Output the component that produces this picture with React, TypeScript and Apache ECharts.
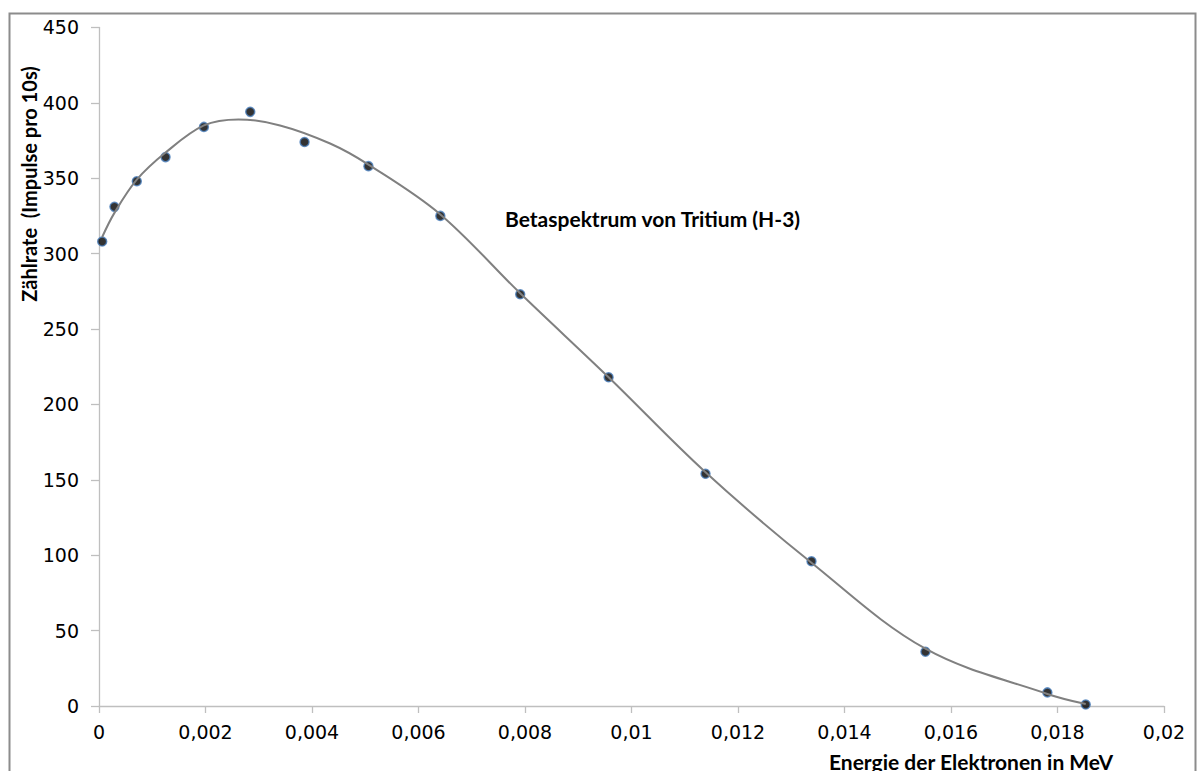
import React, { useEffect, useRef } from "react";
import * as echarts from "echarts";

// measured points (Energie in MeV, Zählrate)
const energy = [0.00006, 0.00029, 0.00071, 0.00125, 0.00197, 0.00284, 0.00386, 0.00506, 0.00641, 0.00791, 0.00957, 0.01139, 0.01338, 0.01552, 0.01781, 0.01853];
const counts = [308, 331, 348, 364, 384, 394, 374, 358, 325, 273, 218, 154, 96, 36, 9, 1];

// trendline samples
const trendX = [0.00006, 0.00029, 0.00071, 0.00125, 0.00197, 0.00262, 0.0034, 0.00434, 0.00506, 0.00641, 0.0079, 0.00957, 0.01139, 0.01338, 0.01552, 0.01781, 0.01853];
const trendY = [311, 327, 349, 367, 385, 389, 385, 373, 359, 326, 274, 218, 155, 95, 38, 8, 1.3];

const titleText = "Betaspektrum von Tritium (H-3)";
const xName = "Energie der Elektronen in MeV";
const yName = "Zählrate  (Impulse pro 10s)";

export default function App() {
  const ref = useRef<HTMLDivElement>(null);
  useEffect(() => {
    document.body.style.margin = "0";
    const chart = echarts.init(ref.current!, undefined, { renderer: "svg" });
    const axisColor = "#bfbfbf";
    chart.setOption({
      animation: false,
      backgroundColor: "#ffffff",
      grid: { left: 99, right: 33, top: 27.4, bottom: 65 },
      title: {
        text: titleText,
        left: 505,
        top: 208,
        padding: 0,
        textStyle: { fontFamily: "Lato", fontWeight: "bold", fontSize: 21, color: "#000" },
      },
      xAxis: {
        type: "value",
        min: 0,
        max: 0.02,
        interval: 0.002,
        axisLine: { show: true, lineStyle: { color: axisColor, width: 1.3 } },
        axisTick: { show: true, length: 7, lineStyle: { color: axisColor, width: 1.3 } },
        splitLine: { show: false },
        axisLabel: {
          margin: 16,
          fontFamily: "DejaVu Sans",
          fontSize: 19,
          color: "#000",
          formatter: (v: number) => String(parseFloat(v.toFixed(4))).replace(".", ","),
        },
      },
      yAxis: {
        type: "value",
        min: 0,
        max: 450,
        interval: 50,
        axisLine: { show: true, lineStyle: { color: axisColor, width: 1.3 } },
        axisTick: { show: true, length: 8, lineStyle: { color: axisColor, width: 1.3 } },
        splitLine: { show: false },
        axisLabel: { margin: 20, fontFamily: "DejaVu Sans", fontSize: 19, color: "#000" },
      },
      graphic: [
        {
          type: "rect",
          shape: { x: 9.5, y: 13.5, width: 1186, height: 800 },
          style: { fill: "none", stroke: "#8c8c8c", lineWidth: 2 },
          silent: true,
        },
        {
          type: "text",
          x: 29,
          y: 184,
          rotation: Math.PI / 2,
          style: {
            text: yName,
            align: "center",
            verticalAlign: "middle",
            fontFamily: "Lato",
            fontWeight: "bold",
            fontSize: 20,
            fill: "#000",
          },
        },
        {
          type: "text",
          x: 1113,
          y: 761,
          style: {
            text: xName,
            align: "right",
            verticalAlign: "middle",
            fontFamily: "Lato",
            fontWeight: "bold",
            fontSize: 21,
            fill: "#000",
          },
        },
      ],
      series: [
        {
          type: "scatter",
          data: energy.map((x, i) => [x, counts[i]]),
          symbol: "circle",
          symbolSize: 9,
          itemStyle: { color: "#000000", borderColor: "#4a7ebb", borderWidth: 1.5 },
          z: 2,
        },
        {
          type: "line",
          data: trendX.map((x, i) => [x, trendY[i]]),
          smooth: 0.35,
          showSymbol: false,
          symbol: "none",
          lineStyle: { color: "#808080", width: 2 },
          z: 3,
        },
      ],
    });
    return () => chart.dispose();
  }, []);
  return <div ref={ref} style={{ width: 1197, height: 771 }} />;
}
